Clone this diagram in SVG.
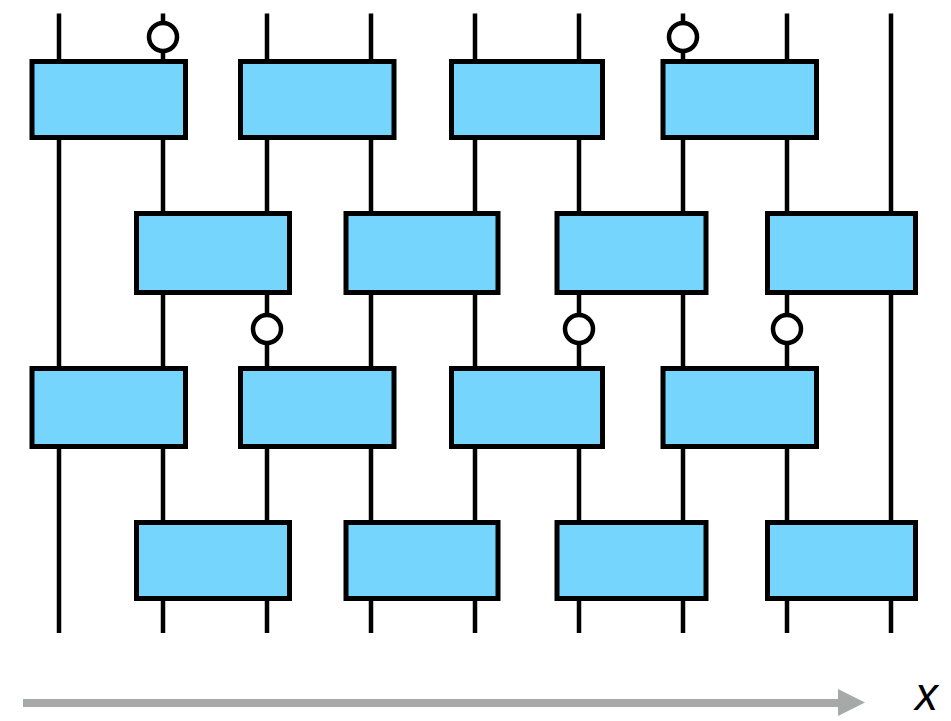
<svg xmlns="http://www.w3.org/2000/svg" width="951" height="721" viewBox="0 0 951 721">
<style>
.wire{stroke:#000;stroke-width:4.5;fill:none}
.gate{fill:#75d5fd;stroke:#000;stroke-width:5}
.dot{fill:#fff;stroke:#000;stroke-width:4.5}
.axis{stroke:#a7a9a8;stroke-width:8}
.lbl{font-family:"Liberation Sans",Arial,sans-serif;font-style:italic;font-size:46px;fill:#000}
</style>
<g id="connectors">
<line class="wire" x1="59" y1="13.5" x2="59" y2="633"/>
<line class="wire" x1="163" y1="13.5" x2="163" y2="633"/>
<line class="wire" x1="267" y1="13.5" x2="267" y2="633"/>
<line class="wire" x1="371" y1="13.5" x2="371" y2="633"/>
<line class="wire" x1="475" y1="13.5" x2="475" y2="633"/>
<line class="wire" x1="579" y1="13.5" x2="579" y2="633"/>
<line class="wire" x1="683" y1="13.5" x2="683" y2="633"/>
<line class="wire" x1="787" y1="13.5" x2="787" y2="633"/>
<line class="wire" x1="891" y1="13.5" x2="891" y2="633"/>
</g>
<g id="row1">
<g id="g1a"><rect class="gate" x="32" y="61.5" width="153.5" height="76"/></g>
<g id="g1b"><rect class="gate" x="240.5" y="61.5" width="153.5" height="76"/></g>
<g id="g1c"><rect class="gate" x="451.5" y="61.5" width="151" height="76"/></g>
<g id="g1d"><rect class="gate" x="663" y="61.5" width="153.5" height="76"/></g>
</g>
<g id="row2">
<g id="g2a"><rect class="gate" x="136.5" y="213.5" width="153" height="79"/></g>
<g id="g2b"><rect class="gate" x="346" y="213.5" width="152" height="79"/></g>
<g id="g2c"><rect class="gate" x="557" y="213.5" width="149" height="79"/></g>
<g id="g2d"><rect class="gate" x="767.5" y="213.5" width="148" height="79"/></g>
</g>
<g id="row3">
<g id="g3a"><rect class="gate" x="32" y="368.5" width="153.5" height="78"/></g>
<g id="g3b"><rect class="gate" x="240.5" y="368.5" width="153.5" height="78"/></g>
<g id="g3c"><rect class="gate" x="451.5" y="368.5" width="151" height="78"/></g>
<g id="g3d"><rect class="gate" x="663" y="368.5" width="153.5" height="78"/></g>
</g>
<g id="row4">
<g id="g4a"><rect class="gate" x="136.5" y="522.5" width="153" height="76"/></g>
<g id="g4b"><rect class="gate" x="346" y="522.5" width="152" height="76"/></g>
<g id="g4c"><rect class="gate" x="557" y="522.5" width="149" height="76"/></g>
<g id="g4d"><rect class="gate" x="767.5" y="522.5" width="148" height="76"/></g>
</g>
<g id="dots">
<circle class="dot" cx="163" cy="37" r="14"/>
<circle class="dot" cx="683" cy="37" r="14"/>
<circle class="dot" cx="267" cy="329" r="14"/>
<circle class="dot" cx="579" cy="329" r="14"/>
<circle class="dot" cx="787" cy="329" r="14"/>
</g>
<g id="axis">
<line class="axis" x1="23" y1="703" x2="842" y2="703"/>
<polygon points="838,689 865,702.5 838,716" fill="#a7a9a8"/>
<text class="lbl" x="915" y="710">x</text>
</g>
</svg>
